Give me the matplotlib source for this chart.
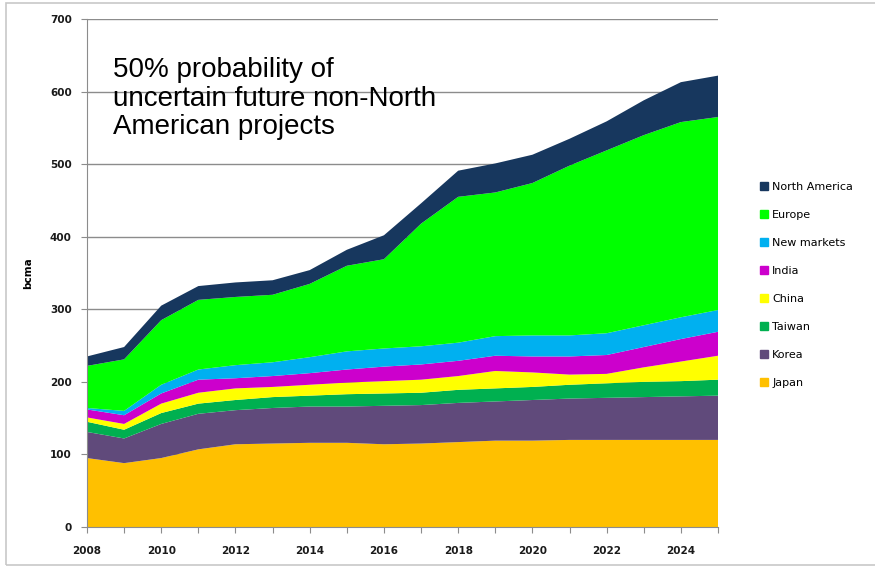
import numpy as np
import matplotlib
matplotlib.use('Agg')
import matplotlib.pyplot as plt
from matplotlib.patches import Rectangle, Patch

years = list(range(2008, 2026))

japan = [95, 88, 95, 107, 114, 115, 116, 116, 114, 115, 117, 119, 119, 120, 120, 120, 120, 120]
korea = [36, 34, 47, 49, 47, 49, 50, 50, 53, 53, 54, 54, 56, 57, 58, 59, 60, 61]
taiwan = [14, 12, 15, 14, 14, 15, 15, 17, 17, 17, 18, 18, 18, 19, 20, 21, 21, 22]
china = [6, 8, 13, 15, 16, 14, 15, 16, 17, 18, 19, 24, 20, 14, 13, 20, 27, 33]
india = [11, 12, 14, 18, 14, 15, 16, 18, 20, 21, 21, 21, 22, 25, 26, 28, 31, 33]
new_markets = [2, 6, 12, 14, 18, 19, 22, 25, 25, 25, 25, 27, 29, 29, 30, 30, 30, 30]
europe = [58, 71, 89, 96, 94, 93, 101, 118, 123, 169, 201, 198, 210, 234, 252, 262, 269, 266]
north_america = [13, 17, 20, 19, 20, 20, 19, 22, 33, 28, 36, 40, 39, 37, 40, 48, 55, 57]

labels = ['Japan', 'Korea', 'Taiwan', 'China', 'India', 'New markets', 'Europe', 'North America']
colors = ['#FFC000', '#604A7B', '#00B050', '#FFFF00', '#CC00CC', '#00B0F0', '#00FF00', '#17375E']

fig = plt.figure(figsize=(8.75, 5.68), dpi=100)
ax = fig.add_axes([0.0994, 0.0722, 0.7212, 0.8943])

ax.stackplot(years, japan, korea, taiwan, china, india, new_markets, europe, north_america,
             colors=colors, linewidth=0, zorder=2)

ax.set_xlim(2008, 2025)
ax.set_ylim(0, 700)
ax.set_yticks(range(0, 701, 100))
ax.set_xticks(range(2008, 2026))
ax.set_xticklabels([str(y) if y % 2 == 0 else '' for y in years])
ax.grid(axis='y', color='#8c8c8c', linewidth=1, zorder=1)
ax.set_axisbelow(True)
for s in ['top', 'right']:
    ax.spines[s].set_visible(False)
for s in ['left', 'bottom']:
    ax.spines[s].set_color('#8c8c8c')
ax.tick_params(axis='both', colors='#8c8c8c', length=4, labelcolor='#1a1a1a', labelsize=7.5)
ax.tick_params(axis='x', pad=10)
ax.tick_params(axis='y', pad=7)
for t in ax.get_xticklabels() + ax.get_yticklabels():
    t.set_fontweight('bold')
ax.set_ylabel('bcma', fontsize=7.5, fontweight='bold', labelpad=12)

fig.text(0.129, 0.899, '50% probability of\nuncertain future non-North\nAmerican projects',
         fontsize=20, family='Liberation Sans', va='top', ha='left', linespacing=1.12)

handles = [Patch(color=c, label=l) for c, l in zip(colors, labels)][::-1]
fig.legend(handles=handles, loc='upper left', bbox_to_anchor=(0.857, 0.697), frameon=False,
           fontsize=8, handlelength=0.7, handleheight=0.7, handletextpad=0.4, labelspacing=1.62)

fig.add_artist(Rectangle((0.007, 0.005), 1.2, 0.99, transform=fig.transFigure,
                         fill=False, edgecolor='#c8c8c8', linewidth=1.2))

fig.savefig('out.png', dpi=100)
